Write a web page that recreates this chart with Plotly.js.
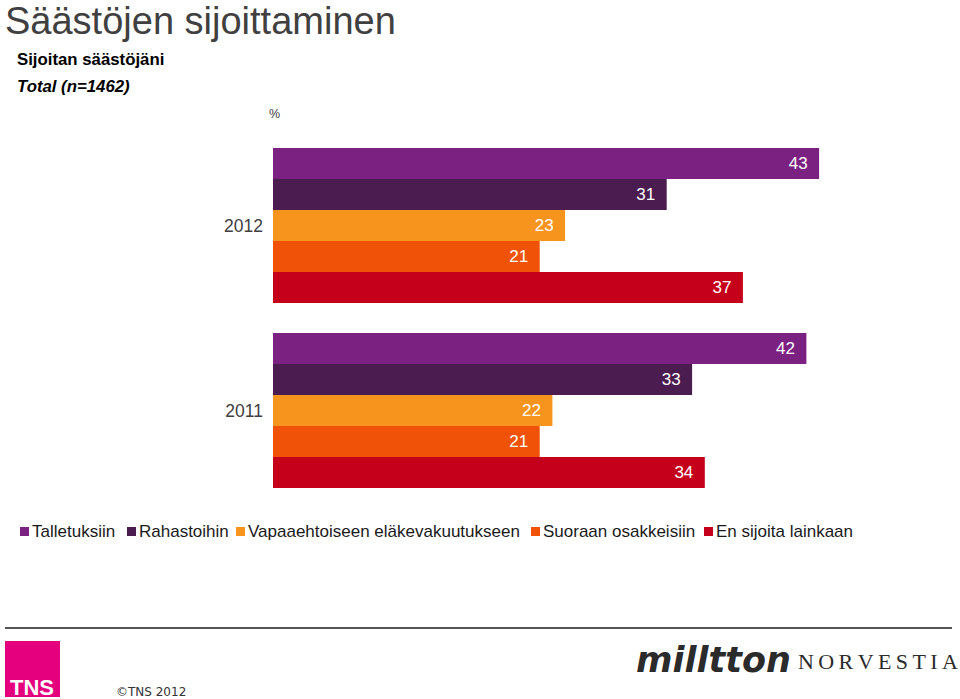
<!DOCTYPE html>
<html>
<head>
<meta charset="utf-8">
<script src="https://cdn.plot.ly/plotly-3.0.1.min.js"></script>
<style>html,body{margin:0;padding:0;background:#fff}#chart{width:960px;height:699px}</style>
</head>
<body>
<div id="chart"></div>
<script>
const categories = ['2012', '2011'];
const seriesNames = ['Talletuksiin', 'Rahastoihin', 'Vapaaehtoiseen eläkevakuutukseen', 'Suoraan osakkeisiin', 'En sijoita lainkaan'];
const talletuksiin = [43, 42];
const rahastoihin = [31, 33];
const vapaaehtoiseen = [23, 22];
const suoraan = [21, 21];
const enSijoita = [37, 34];
const seriesValues = [talletuksiin, rahastoihin, vapaaehtoiseen, suoraan, enSijoita];
const colors = ['#7B2182', '#4B1C4F', '#F7941E', '#F05208', '#C5001A'];

const W = 960, H = 699;
const M = {l: 273, r: 20, t: 133, b: 196};
const PW = W - M.l - M.r, PH = H - M.t - M.b;
const px2x = px => (px - M.l) / PW;
const px2y = py => (H - M.b - py) / PH;
const FONT = 'Liberation Sans, Arial, sans-serif';

const traces = seriesNames.map((name, i) => ({
  type: 'bar',
  orientation: 'h',
  name: name,
  y: categories,
  x: seriesValues[i],
  marker: {color: colors[i], line: {width: 0}},
  text: seriesValues[i].map(v => v + '\u2002'),
  textposition: 'inside',
  insidetextanchor: 'end',
  textfont: {family: FONT, size: 17, color: '#ffffff'},
  constraintext: 'none',
  hoverinfo: 'x+name',
  showlegend: false
}));

// Manual legend (marker left edges in pixels, matching the reference layout)
const legendX = [20, 127, 236, 531, 704];
const ly = 531;
const shapes = [];
const annotations = [];
seriesNames.forEach((name, i) => {
  const lx = legendX[i];
  shapes.push({type: 'rect', xref: 'paper', yref: 'paper',
    x0: px2x(lx), x1: px2x(lx + 9), y0: px2y(ly + 5), y1: px2y(ly - 4),
    fillcolor: colors[i], line: {width: 0}});
  annotations.push({xref: 'paper', yref: 'paper', x: px2x(lx + 12), y: px2y(ly), xanchor: 'left', yanchor: 'middle',
    showarrow: false, text: name, borderpad: 0, borderwidth: 0,
    font: {family: FONT, size: 17, color: '#1a1a1a'}});
});

// Title, subtitles and % label
annotations.push({xref: 'paper', yref: 'paper', x: px2x(5), y: px2y(0), xanchor: 'left', yanchor: 'top', showarrow: false,
  borderpad: 0, borderwidth: 0,
  text: 'Säästöjen sijoittaminen', font: {family: FONT, size: 38, color: '#404040'}});
annotations.push({xref: 'paper', yref: 'paper', x: px2x(15), y: px2y(59), xanchor: 'left', yanchor: 'middle', showarrow: false,
  text: '<b>Sijoitan säästöjäni</b>', font: {family: FONT, size: 16.8, color: '#000'}});
annotations.push({xref: 'paper', yref: 'paper', x: px2x(15), y: px2y(87), xanchor: 'left', yanchor: 'middle', showarrow: false,
  text: '<b><i>Total (n=1462)</i></b>', font: {family: FONT, size: 16.8, color: '#000'}});
annotations.push({xref: 'paper', yref: 'paper', x: px2x(267), y: px2y(114), xanchor: 'left', yanchor: 'middle', showarrow: false,
  text: '%', font: {family: FONT, size: 12.5, color: '#404040'}});

// Footer
shapes.push({type: 'line', xref: 'paper', yref: 'paper', x0: px2x(5), x1: px2x(952), y0: px2y(628), y1: px2y(628),
  line: {color: '#555555', width: 2}});
shapes.push({type: 'rect', xref: 'paper', yref: 'paper', x0: px2x(5), x1: px2x(60), y0: px2y(697), y1: px2y(641),
  fillcolor: '#E5007E', line: {width: 0}});
annotations.push({xref: 'paper', yref: 'paper', x: px2x(8), y: px2y(687), xanchor: 'left', yanchor: 'middle', showarrow: false,
  text: '<b>TNS</b>', font: {family: FONT, size: 22, color: '#ffffff'}});
annotations.push({xref: 'paper', yref: 'paper', x: px2x(114), y: px2y(692), xanchor: 'left', yanchor: 'middle', showarrow: false,
  text: '©TNS 2012', font: {family: 'DejaVu Sans, Verdana, sans-serif', size: 12, color: '#333333'}});
annotations.push({xref: 'paper', yref: 'paper', x: px2x(634), y: px2y(660), xanchor: 'left', yanchor: 'middle', showarrow: false,
  text: '<b><i>milltton</i></b>', font: {family: 'DejaVu Sans, sans-serif', size: 35, color: '#2b2b2b'}});
annotations.push({xref: 'paper', yref: 'paper', x: px2x(796), y: px2y(661), xanchor: 'left', yanchor: 'middle', showarrow: false,
  text: 'N\u2009O\u2009R\u2009V\u2009E\u2009S\u2009T\u2009I\u2009A', font: {family: 'Liberation Serif, DejaVu Serif, serif', size: 22, color: '#2b2b2b'}});

const layout = {
  width: W, height: H,
  margin: M,
  paper_bgcolor: '#ffffff', plot_bgcolor: '#ffffff',
  barmode: 'group', bargap: 0.162, bargroupgap: 0,
  showlegend: false,
  xaxis: {range: [0, PW / 12.7], visible: false, showgrid: false, zeroline: false, fixedrange: true},
  yaxis: {type: 'category', categoryorder: 'array', categoryarray: categories, autorange: 'reversed',
    showgrid: false, zeroline: false, showline: false, ticks: '', ticklabelstandoff: 9,
    tickfont: {family: FONT, size: 17.5, color: '#404040'}},
  shapes: shapes,
  annotations: annotations,
  font: {family: FONT}
};

Plotly.newPlot('chart', traces, layout, {displayModeBar: false, staticPlot: true});
</script>
</body>
</html>
